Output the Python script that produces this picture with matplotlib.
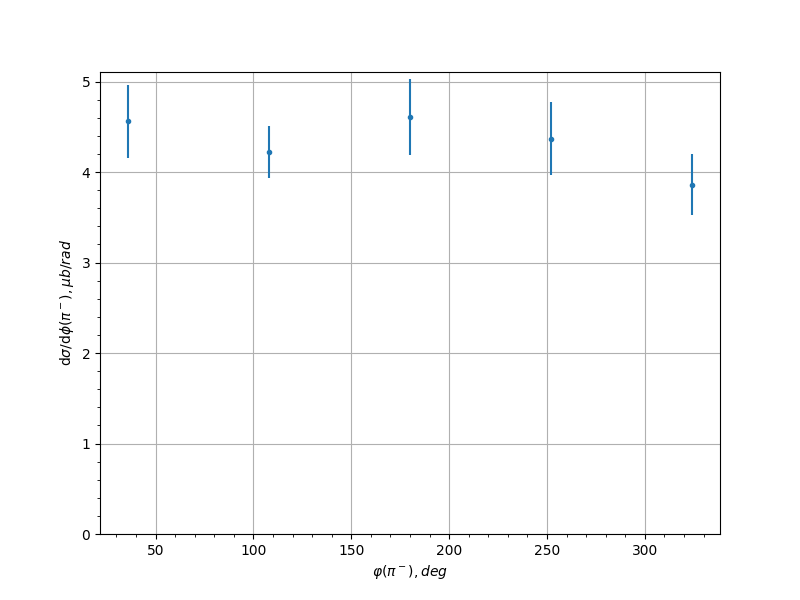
import numpy as np
import matplotlib.pyplot as plt

# phi bins (deg) and cross section values
phi = np.array([36, 108, 180, 252, 324])
dsig = np.array([4.56, 4.22, 4.61, 4.37, 3.86])
err = np.array([0.40, 0.29, 0.42, 0.40, 0.34])

fig, ax = plt.subplots(figsize=(8, 6), dpi=100)
ax.errorbar(phi, dsig, yerr=err, fmt='.')
ax.set_ylim(bottom=0)
ax.minorticks_on()
ax.grid(which='major')
ax.set_xlabel(r'$\varphi(\pi^-), deg$')
ax.set_ylabel(r'd$\sigma$/d$\phi(\pi^-), \mu b/rad$')
fig.savefig('out.png')
